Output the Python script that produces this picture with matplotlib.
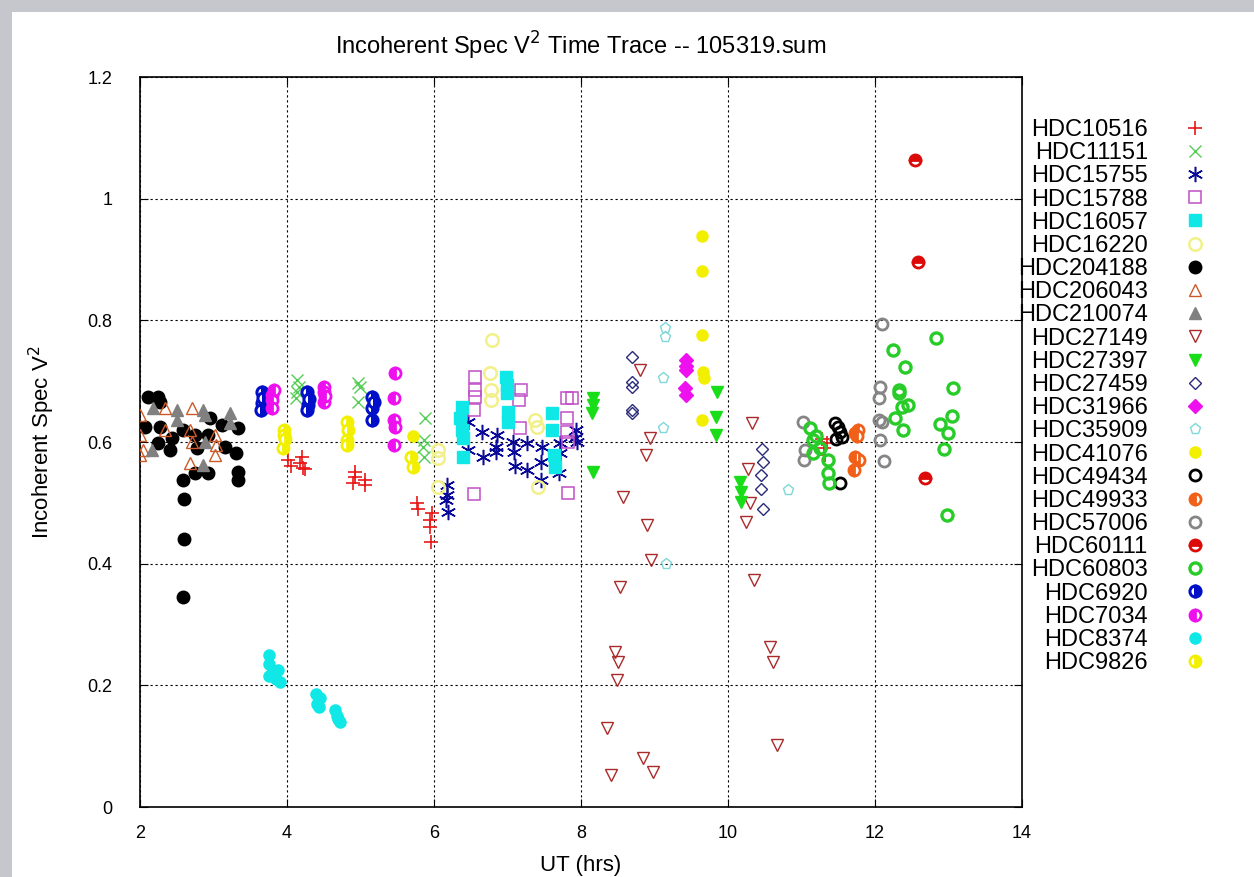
import matplotlib
matplotlib.use('Agg')
from matplotlib import pyplot as plt
from matplotlib.patches import Rectangle

plt.rcParams['font.family'] = ['Liberation Sans', 'DejaVu Sans']

# UT (hrs) / incoherent spec V^2 per star
hdc10516_x = [4.02, 4.05, 4.20, 4.22, 4.25, 4.18, 4.92, 4.92, 4.90, 5.06, 5.06,
              5.77, 5.78, 5.95, 5.95, 5.96, 5.97, 11.28, 11.30, 11.32, 11.35]
hdc10516_y = [0.570, 0.560, 0.575, 0.557, 0.555, 0.565, 0.551, 0.543, 0.533, 0.537, 0.529,
              0.500, 0.490, 0.472, 0.460, 0.436, 0.483, 0.605, 0.590, 0.578, 0.598]

hdc11151_x = [4.14, 4.14, 4.12, 4.16, 4.97, 4.99, 4.97, 5.88, 5.86, 5.86, 5.85]
hdc11151_y = [0.702, 0.682, 0.672, 0.690, 0.697, 0.690, 0.666, 0.639, 0.603, 0.575, 0.592]

hdc15755_x = [6.18, 6.18, 6.17, 6.19, 6.46, 6.46, 6.65, 6.66, 6.86, 6.85, 6.85, 7.08, 7.09,
              7.10, 7.27, 7.26, 7.47, 7.45, 7.46, 7.71, 7.70, 7.71, 7.93, 7.92, 7.95]
hdc15755_y = [0.529, 0.513, 0.505, 0.485, 0.633, 0.587, 0.617, 0.575, 0.612, 0.592, 0.584, 0.600, 0.584,
              0.561, 0.598, 0.554, 0.592, 0.567, 0.538, 0.582, 0.549, 0.598, 0.620, 0.607, 0.600]

hdc15788_x = [6.56, 6.56, 6.56, 6.55, 6.55, 7.18, 7.16, 7.17, 7.81, 7.81, 7.81, 7.82, 7.82, 7.88]
hdc15788_y = [0.707, 0.686, 0.674, 0.653, 0.515, 0.686, 0.669, 0.623, 0.672, 0.639, 0.617, 0.600, 0.516, 0.672]

hdc16057_x = [6.38, 6.38, 6.39, 6.39, 6.36, 6.98, 6.99, 6.99, 7.01, 7.01, 7.60, 7.61, 7.63, 7.64]
hdc16057_y = [0.658, 0.620, 0.607, 0.575, 0.640, 0.707, 0.694, 0.681, 0.650, 0.633, 0.648, 0.620, 0.579, 0.559]

hdc16220_x = [6.79, 6.76, 6.77, 6.77, 7.38, 7.40, 7.42, 6.06, 6.06, 6.05]
hdc16220_y = [0.768, 0.713, 0.686, 0.669, 0.636, 0.625, 0.526, 0.587, 0.574, 0.526]

hdc204188_x = [2.11, 2.24, 2.27, 2.07, 2.27, 2.24, 2.44, 2.41, 2.59, 2.75, 2.77, 2.75, 2.93,
               2.95, 2.93, 3.12, 3.16, 3.33, 3.31, 3.33, 3.33, 2.59, 2.60, 2.60, 2.59]
hdc204188_y = [0.674, 0.674, 0.666, 0.625, 0.625, 0.598, 0.607, 0.587, 0.620, 0.612, 0.590, 0.549, 0.549,
               0.640, 0.612, 0.628, 0.592, 0.623, 0.582, 0.551, 0.538, 0.538, 0.506, 0.441, 0.345]

hdc206043_x = [2.00, 2.00, 2.00, 2.34, 2.71, 2.34, 2.68, 2.71, 2.68, 3.02, 3.04, 3.02, 2.04]
hdc206043_y = [0.644, 0.612, 0.579, 0.656, 0.656, 0.620, 0.620, 0.600, 0.566, 0.612, 0.595, 0.579, 0.587]

hdc210074_x = [2.18, 2.50, 2.50, 2.86, 2.89, 3.22, 3.22, 2.16, 2.86, 2.89]
hdc210074_y = [0.656, 0.653, 0.636, 0.653, 0.644, 0.648, 0.631, 0.587, 0.562, 0.600]

hdc27149_x = [8.80, 8.94, 8.88, 8.57, 8.90, 8.95, 8.53, 8.46, 8.50, 8.49, 8.35, 8.84, 8.41, 8.98,
              10.33, 10.27, 10.30, 10.25, 10.36, 10.57, 10.61, 10.67]
hdc27149_y = [0.718, 0.607, 0.579, 0.510, 0.464, 0.406, 0.362, 0.255, 0.238, 0.209, 0.130, 0.081, 0.053, 0.058,
              0.631, 0.556, 0.500, 0.469, 0.373, 0.263, 0.238, 0.102]

hdc27397_x = [8.16, 8.16, 8.15, 8.17, 9.85, 9.83, 9.83, 10.16, 10.18, 10.18]
hdc27397_y = [0.672, 0.661, 0.648, 0.551, 0.682, 0.641, 0.612, 0.534, 0.518, 0.501]

hdc27459_x = [8.69, 8.70, 8.69, 8.69, 8.70, 10.46, 10.47, 10.45, 10.45, 10.47]
hdc27459_y = [0.740, 0.699, 0.690, 0.653, 0.648, 0.589, 0.567, 0.546, 0.523, 0.490]

hdc31966_x = [9.43, 9.43, 9.42, 9.43, 9.43]
hdc31966_y = [0.735, 0.718, 0.689, 0.677, 0.725]

hdc35909_x = [9.14, 9.14, 9.12, 9.12, 9.16, 10.82]
hdc35909_y = [0.787, 0.773, 0.705, 0.623, 0.400, 0.521]

hdc41076_x = [9.65, 9.65, 9.65, 9.66, 9.67, 9.65, 5.72]
hdc41076_y = [0.939, 0.881, 0.776, 0.715, 0.705, 0.636, 0.610]

hdc49434_x = [11.46, 11.50, 11.52, 11.55, 11.47, 11.52]
hdc49434_y = [0.631, 0.625, 0.617, 0.608, 0.605, 0.533]

hdc49933_x = [11.73, 11.77, 11.75, 11.73, 11.78, 11.72]
hdc49933_y = [0.615, 0.620, 0.610, 0.575, 0.570, 0.554]

hdc57006_x = [12.10, 12.07, 12.05, 12.05, 12.10, 12.07, 12.12, 11.02, 11.05, 11.03]
hdc57006_y = [0.794, 0.690, 0.672, 0.636, 0.633, 0.603, 0.569, 0.633, 0.587, 0.570]

hdc60111_x = [12.54, 12.59, 12.68]
hdc60111_y = [1.064, 0.896, 0.541]

hdc60803_x = [12.83, 12.24, 12.41, 13.06, 12.33, 12.32, 12.37, 12.45, 12.27, 12.38, 13.05, 12.88,
              12.99, 12.94, 12.98, 11.12, 11.16, 11.16, 11.36, 11.36, 11.38, 11.20, 11.25]
hdc60803_y = [0.771, 0.751, 0.723, 0.689, 0.686, 0.681, 0.658, 0.661, 0.640, 0.620, 0.643, 0.630,
              0.615, 0.589, 0.480, 0.623, 0.603, 0.582, 0.570, 0.549, 0.533, 0.610, 0.590]

hdc6920_x = [3.66, 3.66, 3.65, 3.68, 4.27, 4.28, 4.27, 4.30, 5.16, 5.16, 5.16, 5.18]
hdc6920_y = [0.682, 0.664, 0.653, 0.672, 0.682, 0.661, 0.653, 0.670, 0.674, 0.656, 0.636, 0.665]

hdc7034_x = [3.80, 3.80, 3.80, 3.82, 4.50, 4.51, 4.50, 4.52, 5.47, 5.45, 5.45, 5.47, 5.45]
hdc7034_y = [0.677, 0.669, 0.656, 0.685, 0.690, 0.682, 0.666, 0.675, 0.713, 0.672, 0.636, 0.625, 0.595]

hdc8374_x = [3.75, 3.76, 3.80, 3.85, 3.76, 3.90, 3.88, 4.40, 4.41, 4.45, 4.44, 4.65, 4.70, 4.72, 4.68]
hdc8374_y = [0.250, 0.235, 0.220, 0.210, 0.215, 0.205, 0.225, 0.185, 0.170, 0.180, 0.165,
             0.160, 0.145, 0.140, 0.150]

hdc9826_x = [3.96, 3.96, 3.95, 3.97, 4.82, 4.83, 4.82, 4.82, 5.69, 5.72]
hdc9826_y = [0.620, 0.612, 0.590, 0.605, 0.633, 0.620, 0.603, 0.595, 0.575, 0.559]

series = [
    ('HDC10516', hdc10516_x, hdc10516_y),
    ('HDC11151', hdc11151_x, hdc11151_y),
    ('HDC15755', hdc15755_x, hdc15755_y),
    ('HDC15788', hdc15788_x, hdc15788_y),
    ('HDC16057', hdc16057_x, hdc16057_y),
    ('HDC16220', hdc16220_x, hdc16220_y),
    ('HDC204188', hdc204188_x, hdc204188_y),
    ('HDC206043', hdc206043_x, hdc206043_y),
    ('HDC210074', hdc210074_x, hdc210074_y),
    ('HDC27149', hdc27149_x, hdc27149_y),
    ('HDC27397', hdc27397_x, hdc27397_y),
    ('HDC27459', hdc27459_x, hdc27459_y),
    ('HDC31966', hdc31966_x, hdc31966_y),
    ('HDC35909', hdc35909_x, hdc35909_y),
    ('HDC41076', hdc41076_x, hdc41076_y),
    ('HDC49434', hdc49434_x, hdc49434_y),
    ('HDC49933', hdc49933_x, hdc49933_y),
    ('HDC57006', hdc57006_x, hdc57006_y),
    ('HDC60111', hdc60111_x, hdc60111_y),
    ('HDC60803', hdc60803_x, hdc60803_y),
    ('HDC6920', hdc6920_x, hdc6920_y),
    ('HDC7034', hdc7034_x, hdc7034_y),
    ('HDC8374', hdc8374_x, hdc8374_y),
    ('HDC9826', hdc9826_x, hdc9826_y),
]

# marker, colour, fillstyle, size, edge width (gnuplot-like point types)
styles = {
    'HDC10516': ('+', '#e81818', 'full', 10, 1.2),
    'HDC11151': ('x', '#55cc55', 'full', 8, 1.0),
    'HDC15755': ((6, 2, 0), '#0a0a99', 'full', 11, 1.1),
    'HDC15788': ('s', '#c050c8', 'none', 8, 1.1),
    'HDC16057': ('s', '#10e8e8', 'full', 8, 1.0),
    'HDC16220': ('o', '#f2f088', 'none', 9, 1.8),
    'HDC204188': ('o', '#000000', 'full', 9, 1.0),
    'HDC206043': ('^', '#cc5a28', 'none', 8, 1.0),
    'HDC210074': ('^', '#808080', 'full', 8, 1.0),
    'HDC27149': ('v', '#aa2a2a', 'none', 8, 1.0),
    'HDC27397': ('v', '#18dd18', 'full', 8, 1.0),
    'HDC27459': ('D', '#2a2a7a', 'none', 6, 1.0),
    'HDC31966': ('D', '#ee10ee', 'full', 7, 1.0),
    'HDC35909': ('p', '#80d8d8', 'none', 8, 1.0),
    'HDC41076': ('o', '#f2f000', 'full', 8, 1.0),
    'HDC49434': ('o', '#000000', 'none', 8, 2.0),
    'HDC49933': ('o', '#f06018', 'left', 8, 2.0),
    'HDC57006': ('o', '#858585', 'none', 8, 2.0),
    'HDC60111': ('o', '#dd0a0a', 'top', 8, 2.0),
    'HDC60803': ('o', '#28cc28', 'none', 8, 2.4),
    'HDC6920': ('o', '#0010c8', 'right', 8, 2.2),
    'HDC7034': ('o', '#ee10ee', 'left', 8, 2.0),
    'HDC8374': ('o', '#10e8e8', 'full', 8, 1.0),
    'HDC9826': ('o', '#f2f000', 'right', 8, 2.0),
}

x_ticks = [2, 4, 6, 8, 10, 12, 14]
y_ticks = [0, 0.2, 0.4, 0.6, 0.8, 1, 1.2]
y_tick_labels = ['0', '0.2', '0.4', '0.6', '0.8', '1', '1.2']

fig = plt.figure(figsize=(12.54, 8.77), dpi=100)
# screenshot frame: grey strip on the left and top
fig.patch.set_facecolor('#c5c7cd')
fig.add_artist(Rectangle((12 / 1254, 0), 1, 1 - 12 / 877, transform=fig.transFigure,
                         facecolor='white', edgecolor='none', zorder=-10))

ax = fig.add_axes([140 / 1254, 1 - 807 / 877, 882 / 1254, 730 / 877])

for name, xs, ys in series:
    marker, color, fill, size, mew = styles[name]
    ax.plot(xs, ys, linestyle='none', marker=marker, color=color, fillstyle=fill,
            markerfacecoloralt='white', markersize=size, markeredgewidth=mew,
            label=name, zorder=3)

ax.set_xlim(2, 14)
ax.set_ylim(0, 1.2)
ax.set_xticks(x_ticks)
ax.set_yticks(y_ticks)
ax.set_yticklabels(y_tick_labels)
ax.grid(True, color='black', linestyle=(0, (2, 2.5)), linewidth=0.8)
ax.tick_params(direction='in', length=6, top=True, right=True, labelsize=13)
ax.tick_params(axis='x', pad=13)
ax.tick_params(axis='y', pad=20)
for side in ax.spines.values():
    side.set_linewidth(1.2)

ax.set_title(r'Incoherent Spec V$^2$ Time Trace -- 105319.sum', fontsize=17, pad=16)
ax.set_xlabel('UT (hrs)', fontsize=16, labelpad=9)
ax.set_ylabel(r'Incoherent Spec V$^2$', fontsize=16, labelpad=22)

# key outside on the right; with markerfirst=False the rows are right-aligned
ax.legend(loc='upper left', bbox_to_anchor=(1018 / 1254, 1 - 119 / 877),
          bbox_transform=fig.transFigure, frameon=False, markerfirst=False,
          numpoints=1, fontsize=17, labelspacing=0.05, handlelength=1.0,
          handletextpad=1.5, borderpad=0, borderaxespad=0)

fig.savefig('out.png', dpi=100)
